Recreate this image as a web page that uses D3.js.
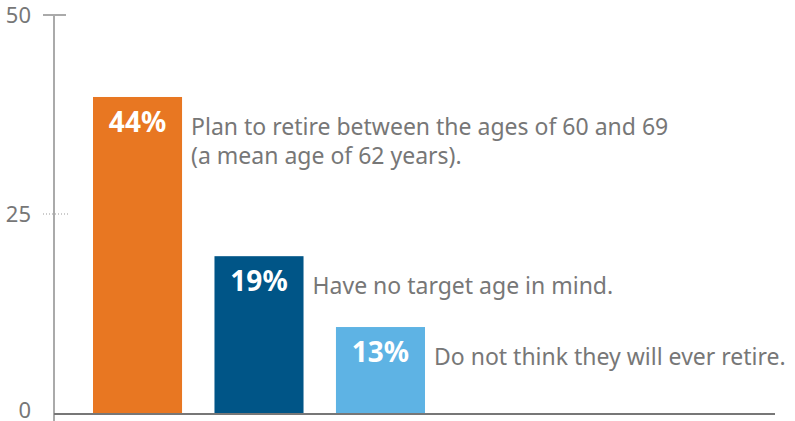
<!DOCTYPE html>
<html>
<head>
<meta charset="utf-8">
<script src="https://cdn.jsdelivr.net/npm/d3@7"></script>
<style>
  body { margin: 0; background: #fff; }
  svg { display: block; font-family: "Noto Sans", "Open Sans", sans-serif; }
</style>
</head>
<body>
<div id="chart"></div>
<script>
// bar heights as drawn (the printed labels differ from the drawn heights)
var categories = ["plan", "none", "never"];
var barValues = [39.7, 19.7, 10.8];
var pctLabels = ["44%", "19%", "13%"];
var descLines = [
  ["Plan to retire between the ages of 60 and 69", "(a mean age of 62 years)."],
  ["Have no target age in mind."],
  ["Do not think they will ever retire."]
];
var barColors = ["#e87722", "#005587", "#5eb3e4"];
var yTicks = [0, 25, 50];

var width = 795, height = 421;
var svg = d3.select("#chart").append("svg")
    .attr("width", width)
    .attr("height", height);

var y = d3.scaleLinear().domain([0, 50]).range([413, 15]);
var x = d3.scaleBand().domain(categories).range([93, 425]).paddingInner(0.267).paddingOuter(0);

// y axis line
svg.append("line")
    .attr("x1", 54).attr("x2", 54)
    .attr("y1", y(50)).attr("y2", 421)
    .attr("stroke", "#aaa").attr("stroke-width", 2);

// ticks
yTicks.forEach(function(t) {
  if (t == 50) {
    svg.append("line")
      .attr("x1", 43).attr("x2", 66)
      .attr("y1", y(t)).attr("y2", y(t))
      .attr("stroke", "#aaa").attr("stroke-width", 2);
  } else if (t == 25) {
    svg.append("line")
      .attr("x1", 43).attr("x2", 68)
      .attr("y1", y(t)).attr("y2", y(t))
      .attr("stroke", "#999").attr("stroke-width", 1)
      .attr("stroke-dasharray", "1,2");
  }
  svg.append("text")
    .attr("x", 31).attr("y", y(t) - (t == 0 ? 3 : 0)) // zero label sits a bit higher
    .attr("dy", "0.35em")
    .attr("text-anchor", "end")
    .attr("fill", "#777")
    .style("font-size", "22px")
    .text(t);
});

// bars
svg.selectAll("rect.bar")
  .data(barValues)
  .enter()
  .append("rect")
    .attr("class", "bar")
    .attr("x", function(d, i) { return x(categories[i]); })
    .attr("y", function(d) { return y(d); })
    .attr("width", x.bandwidth())
    .attr("height", function(d) { return y(0) - y(d); })
    .attr("fill", function(d, i) { return barColors[i]; });

// baseline
svg.append("line")
    .attr("x1", 54).attr("x2", 775)
    .attr("y1", 414).attr("y2", 414)
    .attr("stroke", "#777").attr("stroke-width", 2);

// percent labels inside bars
svg.selectAll("text.pct")
  .data(pctLabels)
  .enter()
  .append("text")
    .attr("class", "pct")
    .attr("x", function(d, i) { return x(categories[i]) + x.bandwidth() / 2; })
    .attr("y", function(d, i) { return y(barValues[i]) + 35; })
    .attr("text-anchor", "middle")
    .attr("fill", "#fff")
    .style("font-size", "28px")
    .style("font-weight", "bold")
    .text(function(d) { return d; });

// descriptions
descLines.forEach(function(lines, i) {
  var tx = x(categories[i]) + x.bandwidth() + 9;
  var t = svg.append("text")
    .attr("x", tx)
    .attr("y", y(barValues[i]) + 38)
    .attr("fill", "#777")
    .style("font-size", "23px");
  lines.forEach(function(l, k) {
    t.append("tspan")
      .attr("x", tx)
      .attr("dy", k == 0 ? 0 : 29)
      .text(l);
  });
});
</script>
</body>
</html>
